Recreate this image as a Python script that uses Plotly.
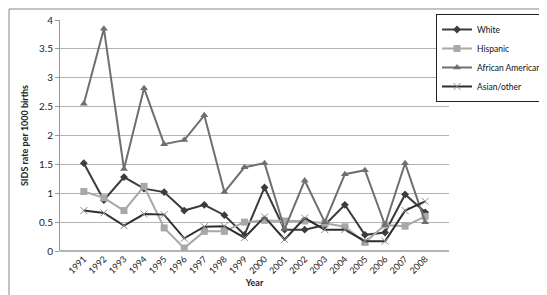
import plotly.graph_objects as go

years = [str(y) for y in range(1991, 2009)]
white = [1.52, 0.88, 1.28, 1.08, 1.02, 0.70, 0.80, 0.62, 0.28, 1.10, 0.37, 0.37, 0.45, 0.80, 0.28, 0.32, 0.98, 0.67]
hispanic = [1.03, 0.92, 0.70, 1.12, 0.40, 0.05, 0.34, 0.34, 0.50, 0.53, 0.52, 0.52, 0.48, 0.42, 0.15, 0.45, 0.43, 0.60]
african_american = [2.55, 3.85, 1.42, 2.82, 1.85, 1.92, 2.35, 1.02, 1.45, 1.52, 0.38, 1.22, 0.50, 1.33, 1.40, 0.45, 1.52, 0.50]
asian_other = [0.70, 0.66, 0.44, 0.64, 0.63, 0.22, 0.42, 0.43, 0.23, 0.59, 0.20, 0.57, 0.37, 0.37, 0.17, 0.17, 0.70, 0.86]

font_family = "Lato, 'Open Sans', sans-serif"

fig = go.Figure()
fig.add_trace(go.Scatter(x=years, y=white, name="White", mode="lines+markers",
                         line=dict(color="#3c3c3c", width=2),
                         marker=dict(symbol="diamond", size=6, color="#3c3c3c")))
fig.add_trace(go.Scatter(x=years, y=hispanic, name="Hispanic", mode="lines+markers",
                         line=dict(color="#a8a8a8", width=2),
                         marker=dict(symbol="square", size=7, color="#a8a8a8")))
fig.add_trace(go.Scatter(x=years, y=african_american, name="African American", mode="lines+markers",
                         line=dict(color="#6f6f6f", width=2),
                         marker=dict(symbol="triangle-up", size=7, color="#6f6f6f")))
fig.add_trace(go.Scatter(x=years, y=asian_other, name="Asian/other", mode="lines+markers",
                         line=dict(color="#2e2e2e", width=2),
                         marker=dict(symbol="x-thin", size=7, color="#8a8a8a",
                                     line=dict(color="#8a8a8a", width=1))))

fig.update_layout(
    width=547, height=295,
    margin=dict(l=52, r=106, t=12, b=52, autoexpand=False),
    paper_bgcolor="white", plot_bgcolor="white",
    font=dict(family=font_family, size=10, color="#222"),
    showlegend=True,
    legend=dict(xref="paper", yref="paper", x=(428 - 52) / 389, y=(242.7 - 6) / 230.7,
                xanchor="left", yanchor="top",
                bordercolor="#222", borderwidth=1, bgcolor="white",
                font=dict(size=8.5, color="#111"), tracegroupgap=0, itemwidth=30),
    xaxis=dict(type="category", tickangle=-45, showgrid=False,
               showline=False, ticks="", tickfont=dict(size=9),
               title=dict(text="<b>Year</b>", font=dict(size=9), standoff=4)),
    yaxis=dict(range=[0, 4], dtick=0.5, showgrid=True, gridcolor="#b4b4b4", gridwidth=1,
               showline=True, linecolor="#999", linewidth=1,
               ticks="outside", ticklen=4, tickcolor="#999", zeroline=True, zerolinecolor="#b4b4b4",
               tickfont=dict(size=10),
               title=dict(text="<b>SIDS rate per 1000 births</b>", font=dict(size=9), standoff=8)),
    shapes=[dict(type="rect", xref="paper", yref="paper", x0=-51/389, x1=(544-52)/389,
                 y0=-(293-242.7)/230.7, y1=(242.7-1)/230.7,
                 line=dict(color="#888", width=1), layer="below")],
)

fig.write_html("out.html")
